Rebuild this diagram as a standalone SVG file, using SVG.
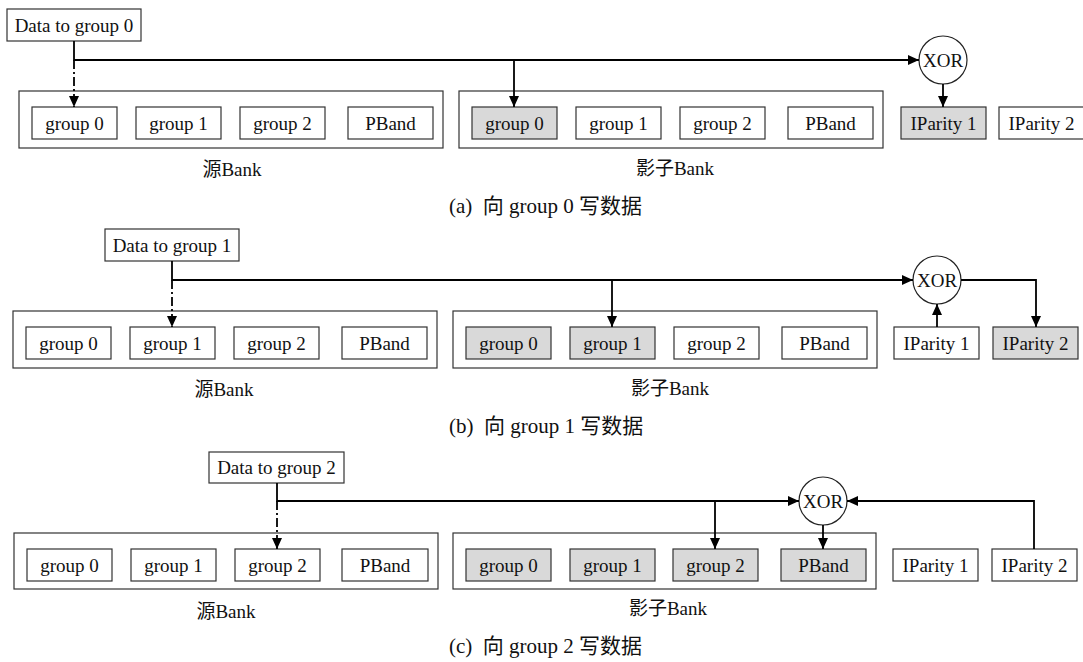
<svg xmlns="http://www.w3.org/2000/svg" width="1083" height="662" viewBox="0 0 1083 662">
<style>
  .box { fill: #ffffff; stroke: #333333; stroke-width: 1.2; }
  .hl { fill: #d9d9d9; stroke: #333333; stroke-width: 1.2; }
  .bank { fill: none; stroke: #333333; stroke-width: 1.2; }
  .xor { fill: #ffffff; stroke: #222222; stroke-width: 1.2; }
  .t { font-family: "Liberation Serif", "Noto Sans CJK SC", serif; font-size: 19px; fill: #111111; text-anchor: middle; }
  .cap { font-family: "Liberation Serif", "Noto Sans CJK SC", serif; font-size: 21px; fill: #111111; }
  .c { fill: none; stroke: #000000; stroke-width: 1.8; marker-end: url(#arr); }
  .dd { stroke-dasharray: 9 3 2 3; }
</style>
<defs>
  <marker id="arr" markerUnits="userSpaceOnUse" markerWidth="11" markerHeight="10" refX="11" refY="5" orient="auto">
    <path d="M0,0 L11,5 L0,10 z" fill="#000000"/>
  </marker>
</defs>
<rect width="1083" height="662" fill="#ffffff"/>

<!-- ===== Panel (a) ===== -->
<g id="a-data"><rect class="box" x="7" y="9" width="134" height="32"/><text class="t" x="74" y="31.5">Data to group 0</text></g>
<g id="a-src">
  <rect class="bank" x="19" y="91" width="424" height="57"/>
  <text class="t" x="232" y="176">源Bank</text>
</g>
<g id="a-src-g0"><rect class="box" x="32" y="107" width="85" height="32"/><text class="t" x="74.5" y="129.5">group 0</text></g>
<g id="a-src-g1"><rect class="box" x="136" y="107" width="85" height="32"/><text class="t" x="178.5" y="129.5">group 1</text></g>
<g id="a-src-g2"><rect class="box" x="240" y="107" width="85" height="32"/><text class="t" x="282.5" y="129.5">group 2</text></g>
<g id="a-src-pb"><rect class="box" x="348" y="107" width="85" height="32"/><text class="t" x="390.5" y="129.5">PBand</text></g>
<g id="a-sh">
  <rect class="bank" x="459" y="91" width="424" height="57"/>
  <text class="t" x="675" y="175">影子Bank</text>
</g>
<g id="a-sh-g0"><rect class="hl" x="472" y="107" width="85" height="32"/><text class="t" x="514.5" y="129.5">group 0</text></g>
<g id="a-sh-g1"><rect class="box" x="576" y="107" width="85" height="32"/><text class="t" x="618.5" y="129.5">group 1</text></g>
<g id="a-sh-g2"><rect class="box" x="680" y="107" width="85" height="32"/><text class="t" x="722.5" y="129.5">group 2</text></g>
<g id="a-sh-pb"><rect class="box" x="788" y="107" width="85" height="32"/><text class="t" x="830.5" y="129.5">PBand</text></g>
<g id="a-xor"><circle class="xor" cx="943" cy="60" r="24"/><text class="t" x="943" y="66.5">XOR</text></g>
<g id="a-ip1"><rect class="hl" x="901" y="107" width="85" height="32"/><text class="t" x="943.5" y="129.5">IParity 1</text></g>
<g id="a-ip2"><rect class="box" x="999" y="107" width="85" height="32"/><text class="t" x="1041.5" y="129.5">IParity 2</text></g>
<text id="a-cap" class="cap" x="449" y="213" xml:space="preserve">(a)  向 group 0 写数据</text>

<!-- ===== Panel (b) ===== -->
<g id="b-data"><rect class="box" x="105" y="229" width="134" height="32"/><text class="t" x="172" y="251.5">Data to group 1</text></g>
<g id="b-src">
  <rect class="bank" x="13" y="311" width="424" height="57"/>
  <text class="t" x="224" y="396">源Bank</text>
</g>
<g id="b-src-g0"><rect class="box" x="26" y="327" width="85" height="32"/><text class="t" x="68.5" y="349.5">group 0</text></g>
<g id="b-src-g1"><rect class="box" x="130" y="327" width="85" height="32"/><text class="t" x="172.5" y="349.5">group 1</text></g>
<g id="b-src-g2"><rect class="box" x="234" y="327" width="85" height="32"/><text class="t" x="276.5" y="349.5">group 2</text></g>
<g id="b-src-pb"><rect class="box" x="342" y="327" width="85" height="32"/><text class="t" x="384.5" y="349.5">PBand</text></g>
<g id="b-sh">
  <rect class="bank" x="453" y="311" width="424" height="57"/>
  <text class="t" x="670" y="395">影子Bank</text>
</g>
<g id="b-sh-g0"><rect class="hl" x="466" y="327" width="85" height="32"/><text class="t" x="508.5" y="349.5">group 0</text></g>
<g id="b-sh-g1"><rect class="hl" x="570" y="327" width="85" height="32"/><text class="t" x="612.5" y="349.5">group 1</text></g>
<g id="b-sh-g2"><rect class="box" x="674" y="327" width="85" height="32"/><text class="t" x="716.5" y="349.5">group 2</text></g>
<g id="b-sh-pb"><rect class="box" x="782" y="327" width="85" height="32"/><text class="t" x="824.5" y="349.5">PBand</text></g>
<g id="b-xor"><circle class="xor" cx="937" cy="280" r="24"/><text class="t" x="937" y="286.5">XOR</text></g>
<g id="b-ip1"><rect class="box" x="894" y="327" width="85" height="32"/><text class="t" x="936.5" y="349.5">IParity 1</text></g>
<g id="b-ip2"><rect class="hl" x="993" y="327" width="85" height="32"/><text class="t" x="1035.5" y="349.5">IParity 2</text></g>
<text id="b-cap" class="cap" x="449" y="433" xml:space="preserve">(b)  向 group 1 写数据</text>

<!-- ===== Panel (c) ===== -->
<g id="c-data"><rect class="box" x="209" y="452" width="135" height="31"/><text class="t" x="276.5" y="474">Data to group 2</text></g>
<g id="c-src">
  <rect class="bank" x="14" y="533" width="424" height="56"/>
  <text class="t" x="226" y="618">源Bank</text>
</g>
<g id="c-src-g0"><rect class="box" x="27" y="549" width="85" height="32"/><text class="t" x="69.5" y="571.5">group 0</text></g>
<g id="c-src-g1"><rect class="box" x="131" y="549" width="85" height="32"/><text class="t" x="173.5" y="571.5">group 1</text></g>
<g id="c-src-g2"><rect class="box" x="235" y="549" width="85" height="32"/><text class="t" x="277.5" y="571.5">group 2</text></g>
<g id="c-src-pb"><rect class="box" x="342" y="549" width="86" height="32"/><text class="t" x="385" y="571.5">PBand</text></g>
<g id="c-sh">
  <rect class="bank" x="453" y="533" width="423" height="56"/>
  <text class="t" x="668" y="615">影子Bank</text>
</g>
<g id="c-sh-g0"><rect class="hl" x="466" y="549" width="85" height="32"/><text class="t" x="508.5" y="571.5">group 0</text></g>
<g id="c-sh-g1"><rect class="hl" x="570" y="549" width="85" height="32"/><text class="t" x="612.5" y="571.5">group 1</text></g>
<g id="c-sh-g2"><rect class="hl" x="673" y="549" width="85" height="32"/><text class="t" x="715.5" y="571.5">group 2</text></g>
<g id="c-sh-pb"><rect class="hl" x="781" y="549" width="85" height="32"/><text class="t" x="823.5" y="571.5">PBand</text></g>
<g id="c-xor"><circle class="xor" cx="823" cy="501" r="24"/><text class="t" x="823" y="507.5">XOR</text></g>
<g id="c-ip1"><rect class="box" x="893" y="549" width="85" height="32"/><text class="t" x="935.5" y="571.5">IParity 1</text></g>
<g id="c-ip2"><rect class="box" x="992" y="549" width="85" height="32"/><text class="t" x="1034.5" y="571.5">IParity 2</text></g>
<text id="c-cap" class="cap" x="449" y="653" xml:space="preserve">(c)  向 group 2 写数据</text>

<!-- ===== Connectors ===== -->
<g id="connectors">
  <path class="c" d="M74,41 V60 H919"/>
  <path class="c dd" d="M74,60 V107"/>
  <path class="c" d="M514,60 V107"/>
  <path class="c" d="M943,84 V107"/>

  <path class="c" d="M172,261 V280 H913"/>
  <path class="c dd" d="M172,280 V327"/>
  <path class="c" d="M612,280 V327"/>
  <path class="c" d="M937,327 V304"/>
  <path class="c" d="M961,280 H1036 V327"/>

  <path class="c" d="M277,483 V501 H799"/>
  <path class="c dd" d="M277,501 V549"/>
  <path class="c" d="M715,501 V549"/>
  <path class="c" d="M823,525 V549"/>
  <path class="c" d="M1034,549 V501 H847"/>
</g>
</svg>
